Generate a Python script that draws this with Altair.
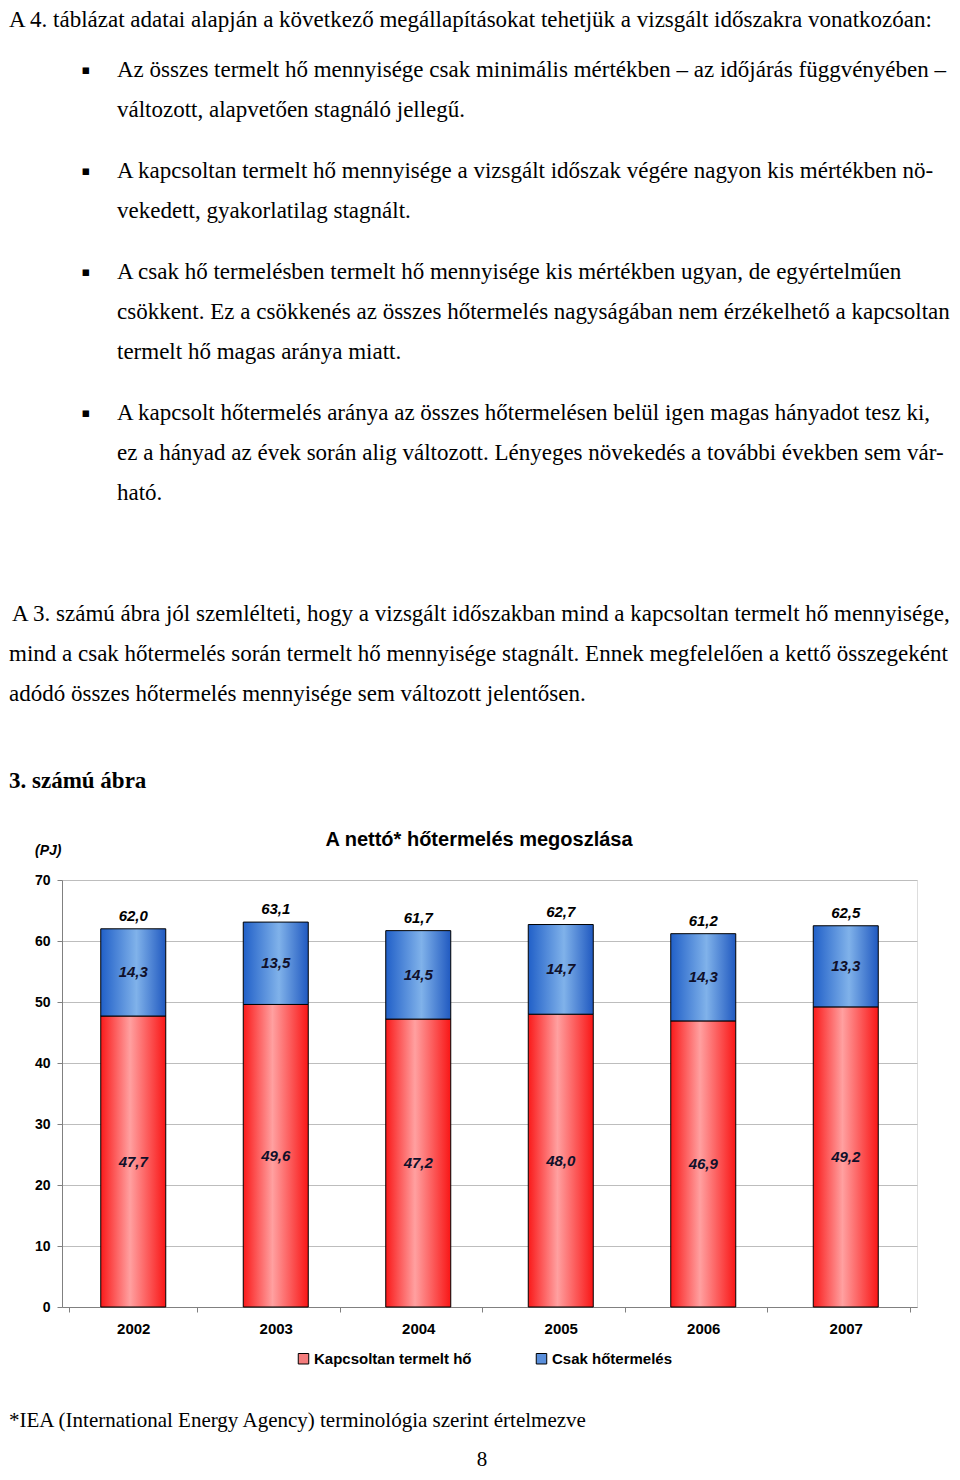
import altair as alt
import pandas as pd

# ---------------- data ----------------
years = ["2002", "2003", "2004", "2005", "2006", "2007"]
kapcsolt = [47.7, 49.6, 47.2, 48.0, 46.9, 49.2]
csak = [14.3, 13.5, 14.5, 14.7, 14.3, 13.3]
osszes = [62.0, 63.1, 61.7, 62.7, 61.2, 62.5]
series = ["Kapcsoltan termelt hő", "Csak hőtermelés"]
y_ticks = [0, 10, 20, 30, 40, 50, 60, 70]

intro = ["A 4. táblázat adatai alapján a következő megállapításokat tehetjük a vizsgált időszakra vonatkozóan:"]
bullet1 = ["Az összes termelt hő mennyisége csak minimális mértékben – az időjárás függvényében –",
           "változott, alapvetően stagnáló jellegű."]
bullet2 = ["A kapcsoltan termelt hő mennyisége a vizsgált időszak végére nagyon kis mértékben nö-",
           "vekedett, gyakorlatilag stagnált."]
bullet3 = ["A csak hő termelésben termelt hő mennyisége kis mértékben ugyan, de egyértelműen",
           "csökkent. Ez a csökkenés az összes hőtermelés nagyságában nem érzékelhető a kapcsoltan",
           "termelt hő magas aránya miatt."]
bullet4 = ["A kapcsolt hőtermelés aránya az összes hőtermelésen belül igen magas hányadot tesz ki,",
           "ez a hányad az évek során alig változott. Lényeges növekedés a további években sem vár-",
           "ható."]
para1_first = ["A 3. számú ábra jól szemlélteti, hogy a vizsgált időszakban mind a kapcsoltan termelt hő mennyisége,"]
para1_rest = ["mind a csak hőtermelés során termelt hő mennyisége stagnált. Ennek megfelelően a kettő összegeként",
              "adódó összes hőtermelés mennyisége sem változott jelentősen."]
heading = "3. számú ábra"
chart_title = "A nettó* hőtermelés megoszlása"
unit_label = "(PJ)"
footnote = "*IEA (International Energy Agency) terminológia szerint értelmezve"
page_no = "8"

df = pd.DataFrame({"year": years, series[0]: kapcsolt, series[1]: csak, "total": osszes})

# ---------------- layout (page px -> plot px) ----------------
PX0, PY0 = 62, 880          # page position of plot area's top-left
def rx(x): return x - PX0
def ry(y): return y - PY0

SERIF = "Liberation Serif"
SANS = "Liberation Sans"
BODY = 23
LH = 40

red_grad = alt.LinearGradient(gradient="linear", x1=0, x2=1, y1=0, y2=0, stops=[
    alt.GradientStop(offset=0, color="#FA1A1A"),
    alt.GradientStop(offset=0.45, color="#FFA0A0"),
    alt.GradientStop(offset=1, color="#F91616")])
blue_grad = alt.LinearGradient(gradient="linear", x1=0, x2=1, y1=0, y2=0, stops=[
    alt.GradientStop(offset=0, color="#2160C8"),
    alt.GradientStop(offset=0.55, color="#80B2EA"),
    alt.GradientStop(offset=1, color="#2059C0")])

base = alt.Chart(df)

x_enc = alt.X("year:N", title=None, scale=alt.Scale(paddingInner=0.1, paddingOuter=0.05),
              axis=alt.Axis(labelAngle=0, tickBand="extent", labelFont=SANS, labelFontWeight="bold",
                            labelFontSize=15, labelColor="black", labelPadding=9, tickSize=5,
                            domainColor="#808080", tickColor="#808080", grid=False))
y_scale = alt.Scale(domain=[0, 70], nice=False)
y_axis = alt.Axis(values=y_ticks, labelFont=SANS, labelFontWeight="bold", labelFontSize=14,
                  labelColor="black", labelPadding=7, tickSize=5, domainColor="#808080",
                  tickColor="#808080", grid=True, gridColor="#BDBDBD", gridWidth=1)

legend_layer = base.transform_fold(series, as_=["series", "value"]).mark_square(
    opacity=0, stroke="black", strokeWidth=1, size=30).encode(
    x=x_enc,
    y=alt.Y("value:Q", scale=y_scale, axis=y_axis, title=None),
    color=alt.Color("series:N", scale=alt.Scale(domain=series, range=["#F47C7C", "#5A8FDB"]),
                    legend=alt.Legend(title=None, orient="none", legendX=rx(296), legendY=ry(1351),
                                      direction="horizontal", symbolType="square", symbolSize=110,
                                      symbolStrokeColor="black", symbolStrokeWidth=1, symbolOpacity=1,
                                      labelFont=SANS, labelFontWeight="bold", labelFontSize=15,
                                      labelColor="black", labelOffset=3, columnPadding=62,
                                      padding=0, labelLimit=300)))

red_bars = base.mark_bar(fill=red_grad, stroke="black", strokeWidth=1, width=65).encode(
    x="year:N", y=alt.Y(f"{series[0]}:Q"))
blue_bars = base.mark_bar(fill=blue_grad, stroke="black", strokeWidth=1, width=65).encode(
    x="year:N", y=alt.Y(f"{series[0]}:Q"), y2=alt.Y2("total:Q"))

lbl_calc = base.transform_calculate(
    kmid=f"datum['{series[0]}'] / 2",
    cmid=f"datum['{series[0]}'] + datum['{series[1]}'] / 2",
    klbl=f"replace(format(datum['{series[0]}'], '.1f'), '.', ',')",
    clbl=f"replace(format(datum['{series[1]}'], '.1f'), '.', ',')",
    tlbl="replace(format(datum.total, '.1f'), '.', ',')")
lbl_style = dict(font=SANS, fontSize=15, fontWeight="bold", fontStyle="italic", baseline="middle")
red_lbl = lbl_calc.mark_text(color="#10102A", **lbl_style).encode(x="year:N", y="kmid:Q", text="klbl:N")
blue_lbl = lbl_calc.mark_text(color="#10102A", **lbl_style).encode(x="year:N", y="cmid:Q", text="clbl:N")
tot_lbl = lbl_calc.mark_text(color="black", dy=-13, **lbl_style).encode(x="year:N", y="total:Q", text="tlbl:N")

one = alt.Data(values=[{}])

def txt(lines, x, yc, size=BODY, font=SERIF, weight="normal", style="normal", align="left"):
    return alt.Chart(one).mark_text(text=lines, font=font, fontSize=size, fontWeight=weight,
                                    fontStyle=style, align=align, baseline="top", lineHeight=LH,
                                    color="black").encode(
        x=alt.value(rx(x)), y=alt.value(ry(yc) - 0.49 * size))

layers = [
    legend_layer, red_bars, blue_bars, red_lbl, blue_lbl, tot_lbl,
    txt(intro, 9, 20),
    txt(bullet1, 117, 70), txt(bullet2, 117, 171), txt(bullet3, 117, 272), txt(bullet4, 117, 413),
    txt(para1_first, 12, 614), txt(para1_rest, 9, 654),
    txt([heading], 9, 781, weight="bold"),
    txt([chart_title], 479, 840, size=20, font=SANS, weight="bold", align="center"),
    txt([unit_label], 35, 851, size=14, font=SANS, weight="bold", style="italic"),
    txt([footnote], 9, 1420, size=21),
    txt([page_no], 482, 1459, size=21, align="center"),
]
for yb in [70, 171, 272, 413]:
    layers.append(txt(["▪"], 86, yb, size=13, font="DejaVu Sans", align="center"))

chart = alt.layer(*layers).properties(
    width=855, height=427,
    autosize=alt.AutoSizeParams(type="none"),
    padding={"left": 54, "top": 872, "right": 35, "bottom": 165},
).configure_view(stroke="#808080", strokeWidth=1).configure(background="white")

chart.save("out.html", embed_options={"renderer": "svg", "actions": False})
